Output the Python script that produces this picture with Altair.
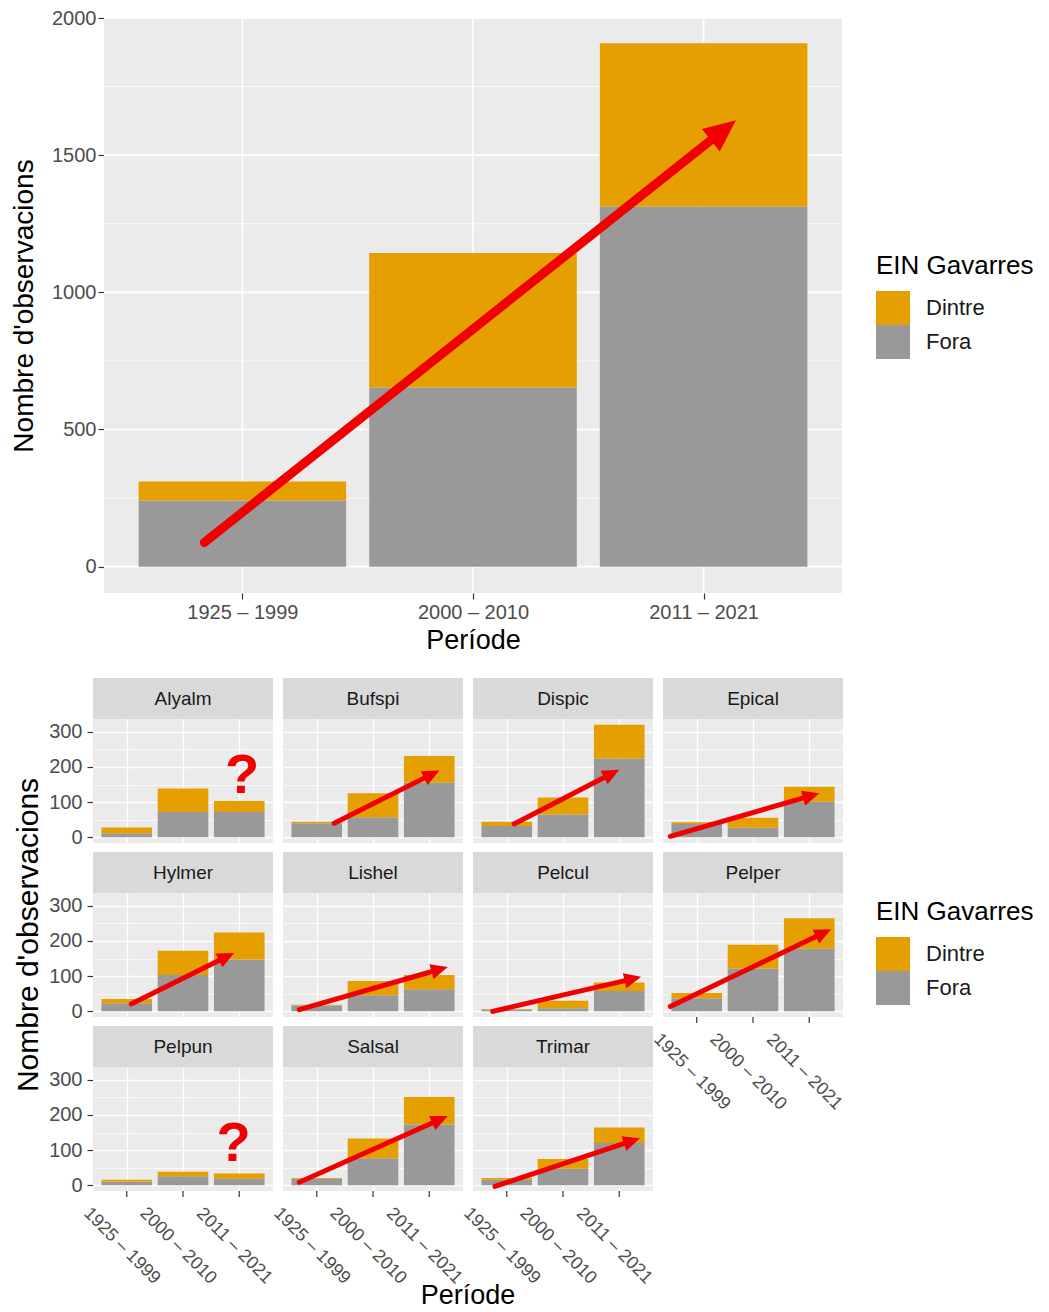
import json
import math

import altair as alt
import pandas as pd

# ---------------------------------------------------------------- data
PERIODS = ["1925 – 1999", "2000 – 2010", "2011 – 2021"]
GROUPS = ["Dintre", "Fora"]
GROUP_COLORS = ["#E69F00", "#999999"]

# all species together
TOTAL_FORA = [241, 653, 1313]
TOTAL_DINTRE = [69, 490, 595]
# trend arrow: start position, start count, tip position, tip count
TOTAL_ARROW = [0.835, 88, 3.14, 1627]

SPECIES = ["Alyalm", "Bufspi", "Dispic", "Epical", "Hylmer", "Lishel",
           "Pelcul", "Pelper", "Pelpun", "Salsal", "Trimar"]
SP_FORA = {
    "Alyalm": [12, 72, 72],
    "Bufspi": [40, 57, 156],
    "Dispic": [32, 65, 224],
    "Epical": [38, 27, 101],
    "Hylmer": [23, 103, 147],
    "Lishel": [17, 46, 63],
    "Pelcul": [5, 9, 58],
    "Pelper": [37, 122, 178],
    "Pelpun": [10, 26, 19],
    "Salsal": [19, 77, 173],
    "Trimar": [16, 47, 120],
}
SP_DINTRE = {
    "Alyalm": [16, 67, 31],
    "Bufspi": [4, 68, 75],
    "Dispic": [12, 48, 96],
    "Epical": [5, 29, 43],
    "Hylmer": [12, 69, 77],
    "Lishel": [2, 40, 40],
    "Pelcul": [2, 21, 24],
    "Pelper": [15, 67, 86],
    "Pelpun": [6, 13, 15],
    "Salsal": [2, 56, 78],
    "Trimar": [5, 28, 44],
}
SP_ARROWS = {
    "Bufspi": [1.31, 40, 3.18, 190],
    "Dispic": [1.13, 38, 3.0, 192],
    "Epical": [0.53, 3, 3.18, 125],
    "Hylmer": [1.08, 21, 2.91, 166],
    "Lishel": [0.69, 5, 3.33, 126],
    "Pelcul": [0.75, 0, 3.39, 98],
    "Pelper": [0.53, 14, 3.39, 233],
    "Salsal": [0.69, 9, 3.33, 197],
    "Trimar": [0.79, -3, 3.37, 134],
}
# species with an uncertain trend: position and count of the "?" baseline
SP_QUESTION = {"Alyalm": [3.05, 125], "Pelpun": [2.9, 70]}

# grid lines of the overall panel
TOP_MAJOR = [0, 500, 1000, 1500, 2000]
TOP_MINOR = [250, 750, 1250, 1750]

# ---------------------------------------------------------------- style
FONT = "Liberation Sans"
RED = "#F00000"
TXT = "#1A1A1A"
TICK_TXT = "#4D4D4D"
TICK_COL = "#333333"
PANEL_BG = "#EBEBEB"
HEAD_PATH = "M0,0L0.9,2L-0.9,2Z"   # arrowhead with its tip at the anchor
BAR_HALF = 0.45
X_DOMAIN = [0.4, 3.6]

TOP_W, TOP_H = 738, 575
TOP_SHIFT = 11                      # top panel sits a little right of the grid below
TOP_Y = [-96, 2000]
CELL_W, CELL_H = 180, 124
CELL_Y = [-16, 336]
N_COLS = 4

PERIOD_LABELS = json.dumps(PERIODS, ensure_ascii=False) + "[datum.value - 1]"


def stacked_rows(fora, dintre, **extra):
    rows = []
    for i, (f, d) in enumerate(zip(fora, dintre)):
        pos = i + 1
        rows.append(dict(extra, kind="bar", grup="Fora",
                         x0=pos - BAR_HALF, x1=pos + BAR_HALF, y0=0, y1=f))
        rows.append(dict(extra, kind="bar", grup="Dintre",
                         x0=pos - BAR_HALF, x1=pos + BAR_HALF, y0=f, y1=f + d))
    return rows


def arrow_row(a, px_x, px_y, back, **extra):
    """Shaft from the start to just behind the tip, plus the head angle."""
    xs, ys, xt, yt = a
    dx = (xt - xs) * px_x
    dy = (yt - ys) * px_y
    f = back / math.hypot(dx, dy)
    return dict(extra, kind="arrow", x0=xs, y0=ys,
                x1=xt - (xt - xs) * f, y1=yt - (yt - ys) * f,
                xt=xt, yt=yt, ang=math.degrees(math.atan2(dx, dy)))


def cond(test, yes, no):
    return {"condition": {"test": test, "value": yes}, "value": no}


def legend(x, y):
    return alt.Legend(title="EIN Gavarres", orient="none", legendX=x, legendY=y,
                      symbolType="square", symbolSize=1156, symbolStrokeWidth=0,
                      symbolOpacity=1, rowPadding=0, titleFontSize=26,
                      titleFontWeight="normal", titleColor="black", titlePadding=12,
                      labelFontSize=22, labelColor=TXT, labelOffset=16)


color_scale = alt.Scale(domain=GROUPS, range=GROUP_COLORS)

# ---------------------------------------------------------------- top panel
top_x_scale = alt.Scale(domain=X_DOMAIN, range=[TOP_SHIFT, TOP_SHIFT + TOP_W],
                        nice=False, zero=False)
top_y_scale = alt.Scale(domain=TOP_Y, nice=False, zero=False)
top_x_axis = alt.Axis(values=[1, 2, 3], labelExpr=PERIOD_LABELS, title="Període",
                      grid=False, domain=False,
                      tickSize=6, tickColor=TICK_COL, tickWidth=1.2,
                      labelFontSize=20, labelColor=TICK_TXT, labelPadding=3,
                      labelFlush=False, labelOverlap=False, titleFontSize=27,
                      titleFontWeight="normal", titleColor="black", titlePadding=5,
                      titleX=TOP_SHIFT + TOP_W / 2)
top_y_axis = alt.Axis(values=TOP_MAJOR, format="d", title="Nombre d'observacions",
                      grid=False, domain=False, offset=-TOP_SHIFT,
                      tickSize=6, tickColor=TICK_COL, tickWidth=1.2,
                      labelFontSize=20, labelColor=TICK_TXT, labelPadding=2,
                      labelOverlap=False, titleFontSize=28,
                      titleFontWeight="normal", titleColor="black", titlePadding=13)


def tx(field):
    return alt.X(f"{field}:Q", scale=top_x_scale, axis=top_x_axis)


def ty(field):
    return alt.Y(f"{field}:Q", scale=top_y_scale, axis=top_y_axis)


top_bg_df = pd.DataFrame({"x0": [X_DOMAIN[0]], "x1": [X_DOMAIN[1]],
                          "y0": [TOP_Y[0]], "y1": [TOP_Y[1]]})
top_hgrid_df = pd.DataFrame(
    [dict(y0=v, w=1.6, x0=X_DOMAIN[0], x1=X_DOMAIN[1]) for v in TOP_MAJOR]
    + [dict(y0=v, w=0.8, x0=X_DOMAIN[0], x1=X_DOMAIN[1]) for v in TOP_MINOR]
)
top_vgrid_df = pd.DataFrame([dict(x0=p + 1, y0=TOP_Y[0], y1=TOP_Y[1])
                             for p in range(len(PERIODS))])
top_bars_df = pd.DataFrame(stacked_rows(TOTAL_FORA, TOTAL_DINTRE))
top_arrow_df = pd.DataFrame([arrow_row(TOTAL_ARROW, TOP_W / 3.2,
                                       TOP_H / (TOP_Y[1] - TOP_Y[0]), 22)])

top_bg = alt.Chart(top_bg_df).mark_rect(color=PANEL_BG).encode(
    x=tx("x0"), x2="x1", y=ty("y0"), y2="y1",
)
top_hgrid = alt.Chart(top_hgrid_df).mark_rule(color="white").encode(
    x=tx("x0"), x2="x1", y=ty("y0"),
    strokeWidth=alt.StrokeWidth("w:Q", scale=None),
)
top_vgrid = alt.Chart(top_vgrid_df).mark_rule(color="white", strokeWidth=1.6).encode(
    x=tx("x0"), y=ty("y0"), y2="y1",
)
top_bars = alt.Chart(top_bars_df).mark_rect().encode(
    x=tx("x0"), x2="x1", y=ty("y0"), y2="y1",
    color=alt.Color("grup:N", scale=color_scale, legend=legend(783, 235)),
)
top_shaft = alt.Chart(top_arrow_df).mark_rule(
    color=RED, strokeWidth=9, strokeCap="round"
).encode(x=tx("x0"), x2="x1", y=ty("y0"), y2="y1")
top_head = alt.Chart(top_arrow_df).mark_point(
    shape=HEAD_PATH, filled=True, size=1024, color=RED, opacity=1, strokeWidth=0
).encode(x=tx("xt"), y=ty("yt"), angle=alt.Angle("ang:Q", scale=None))

top = alt.layer(top_bg, top_hgrid, top_vgrid, top_bars, top_shaft, top_head).properties(
    width=TOP_W + TOP_SHIFT, height=TOP_H,
    view=alt.ViewBackground(fill="white", strokeWidth=0),
)

# ---------------------------------------------------------------- species panels
# the lowest panel of each column carries the period axis, as in a wrapped facet
column_bottoms = [sp for i, sp in enumerate(SPECIES) if i + N_COLS >= len(SPECIES)]

rows = []
for sp in SPECIES:
    rows += stacked_rows(SP_FORA[sp], SP_DINTRE[sp], sp=sp)
for sp, a in SP_ARROWS.items():
    rows.append(arrow_row(a, CELL_W / 3.2, CELL_H / (CELL_Y[1] - CELL_Y[0]), 11, sp=sp))
for sp, (qx, qy) in SP_QUESTION.items():
    rows.append(dict(sp=sp, kind="q", xt=qx, yt=qy, label="?"))
for sp in SPECIES:
    rows.append(dict(sp=sp, kind="strip", label=sp))
for sp in column_bottoms:
    for p, name in enumerate(PERIODS):
        rows.append(dict(sp=sp, kind="xlab", x0=p + 1, label=name))
rows.append(dict(sp="Hylmer", kind="ytitle", label="Nombre d'observacions"))
rows.append(dict(sp="Salsal", kind="xtitle", label="Període"))
panel_df = pd.DataFrame(rows)

cell_major = "datum.value % 100 === 0"
cell_x_scale = alt.Scale(domain=X_DOMAIN, nice=False, zero=False)
cell_y_scale = alt.Scale(domain=CELL_Y, nice=False, zero=False)
cell_x_axis = alt.Axis(values=[1, 2, 3], title=None, labels=False, ticks=False,
                       grid=True, gridColor="white", gridWidth=1.3, domain=False)
cell_y_axis = alt.Axis(values=list(range(0, 301, 50)),
                       labelExpr=f"{cell_major} ? datum.label : ''",
                       title=None, grid=True, gridColor="white",
                       gridWidth=cond(cell_major, 1.3, 0.7),
                       tickOpacity=cond(cell_major, 1, 0), domain=False,
                       tickSize=6, tickColor=TICK_COL, tickWidth=1.2,
                       labelFontSize=20, labelColor=TICK_TXT, labelPadding=5,
                       labelOverlap=False)


def cx(field):
    return alt.X(f"{field}:Q", scale=cell_x_scale, axis=cell_x_axis)


def cy(field):
    return alt.Y(f"{field}:Q", scale=cell_y_scale, axis=cell_y_axis)


base = alt.Chart()


def only(kind):
    return base.transform_filter(f"datum.kind == '{kind}'")


cell_bars = only("bar").mark_rect().encode(
    x=cx("x0"), x2="x1", y=cy("y0"), y2="y1",
    color=alt.Color("grup:N", scale=color_scale, legend=legend(783, 180)),
)
cell_shaft = only("arrow").mark_rule(color=RED, strokeWidth=5, strokeCap="round").encode(
    x=cx("x0"), x2="x1", y=cy("y0"), y2="y1",
)
cell_head = only("arrow").mark_point(
    shape=HEAD_PATH, filled=True, size=289, color=RED, opacity=1, strokeWidth=0
).encode(x=cx("xt"), y=cy("yt"), angle=alt.Angle("ang:Q", scale=None))
cell_q = only("q").mark_text(
    fontSize=56, fontWeight="bold", color=RED, baseline="alphabetic", align="center"
).encode(x=cx("xt"), y=cy("yt"), text="label:N")
strip_box = only("strip").mark_rect(color="#D9D9D9").encode(
    x=alt.value(0), x2=alt.value(CELL_W), y=alt.value(-41), y2=alt.value(0),
)
strip_text = only("strip").mark_text(fontSize=19, color=TXT, baseline="middle").encode(
    x=alt.value(CELL_W / 2), y=alt.value(-20), text="label:N",
)
# period ticks and slanted labels under the lowest panel of each column
x_ticks = only("xlab").mark_rule(color=TICK_COL, strokeWidth=1.2).encode(
    x=cx("x0"), y=alt.value(CELL_H), y2=alt.value(CELL_H + 6),
)
x_labels = only("xlab").mark_text(
    angle=45, align="center", baseline="middle", fontSize=18, color=TICK_TXT,
    dx=-3.5, dy=3.5,
).encode(x=cx("x0"), y=alt.value(CELL_H + 55), text="label:N")
y_title = only("ytitle").mark_text(
    fontSize=30, color="black", angle=270, baseline="middle", align="center"
).encode(x=alt.value(-64), y=alt.value(42), text="label:N")
x_title = only("xtitle").mark_text(
    fontSize=27, color="black", baseline="middle", align="center"
).encode(x=alt.value(CELL_W + 5), y=alt.value(229), text="label:N")

panels = alt.layer(
    strip_box, strip_text, cell_bars, cell_shaft, cell_head, cell_q,
    x_ticks, x_labels, y_title, x_title,
    data=panel_df,
).properties(width=CELL_W, height=CELL_H).facet(
    facet=alt.Facet("sp:N", sort=SPECIES,
                    header=alt.Header(labels=False, title=None, labelExpr="''",
                                      labelFontSize=1, labelPadding=0)),
    columns=N_COLS,
    spacing={"row": 50, "column": 10},
    bounds="flush",
)

chart = alt.vconcat(top, panels, spacing=24).resolve_scale(
    color="independent"
).resolve_legend(
    color="independent"
).properties(
    padding={"left": 10, "top": 8, "right": 0, "bottom": 0}
).configure(
    font=FONT
).configure_view(
    fill=PANEL_BG, stroke=None
).configure_header(
    labels=False, labelFontSize=1, labelPadding=0, labelColor="transparent"
)

chart.save("out.html", embed_options={"renderer": "svg", "actions": False})
